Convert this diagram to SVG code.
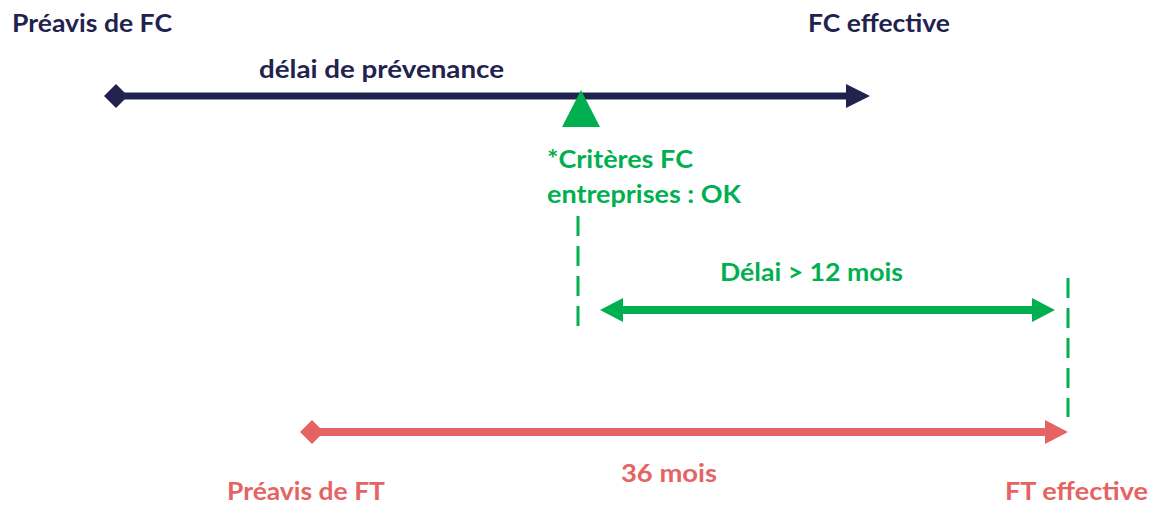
<svg xmlns="http://www.w3.org/2000/svg" width="1166" height="506" viewBox="0 0 1166 506">
<style>
text{font-family:Lato,"Open Sans","Liberation Sans",sans-serif;font-weight:bold;font-size:25px}
.n{fill:#22224f}.g{fill:#00b050}.r{fill:#e56363}
.dash{stroke:#00b050;stroke-width:3;stroke-dasharray:20 10;fill:none}
</style>
<rect width="1166" height="506" fill="#fff"/>
<g id="connectors">
<line x1="116" y1="96" x2="850" y2="96" stroke="#22224f" stroke-width="7"/>
<polygon points="104,96 116,84 128,96 116,108" class="n"/>
<polygon points="846,84 870,96 846,108" class="n"/>
<line x1="620" y1="310" x2="1035" y2="310" stroke="#00b050" stroke-width="8"/>
<polygon points="600,310 623,298 623,322" class="g"/>
<polygon points="1055,310 1032,298 1032,322" class="g"/>
<line x1="312" y1="432" x2="1048" y2="432" stroke="#e56363" stroke-width="8"/>
<polygon points="300,432 312,420 324,432 312,444" class="r"/>
<polygon points="1045,420 1068,432 1045,444" class="r"/>
<line class="dash" x1="578" y1="216" x2="578" y2="326"/>
<line class="dash" x1="1068" y1="278" x2="1068" y2="417"/>
</g>
<g id="marker-criteres">
<polygon points="581,90 600,127 562,127" class="g"/>
</g>
<g id="preavis-fc"><text x="12" y="32" class="n" textLength="160" lengthAdjust="spacingAndGlyphs">Préavis de FC</text></g>
<g id="fc-effective"><text x="808" y="32" class="n" textLength="142" lengthAdjust="spacingAndGlyphs">FC effective</text></g>
<g id="delai-prevenance"><text x="259" y="78" class="n" textLength="245" lengthAdjust="spacingAndGlyphs">délai de prévenance</text></g>
<g id="criteres"><text x="547" y="168" class="g" textLength="146" lengthAdjust="spacingAndGlyphs">*Critères FC</text><text x="547" y="203" class="g" textLength="194" lengthAdjust="spacingAndGlyphs">entreprises : OK</text></g>
<g id="delai-12"><text x="720" y="281" class="g" textLength="183" lengthAdjust="spacingAndGlyphs">Délai &gt; 12 mois</text></g>
<g id="mois36"><text x="621" y="482" class="r" textLength="96" lengthAdjust="spacingAndGlyphs">36 mois</text></g>
<g id="preavis-ft"><text x="227" y="500" class="r" textLength="158" lengthAdjust="spacingAndGlyphs">Préavis de FT</text></g>
<g id="ft-effective"><text x="1005" y="500" class="r" textLength="143" lengthAdjust="spacingAndGlyphs">FT effective</text></g>
</svg>
